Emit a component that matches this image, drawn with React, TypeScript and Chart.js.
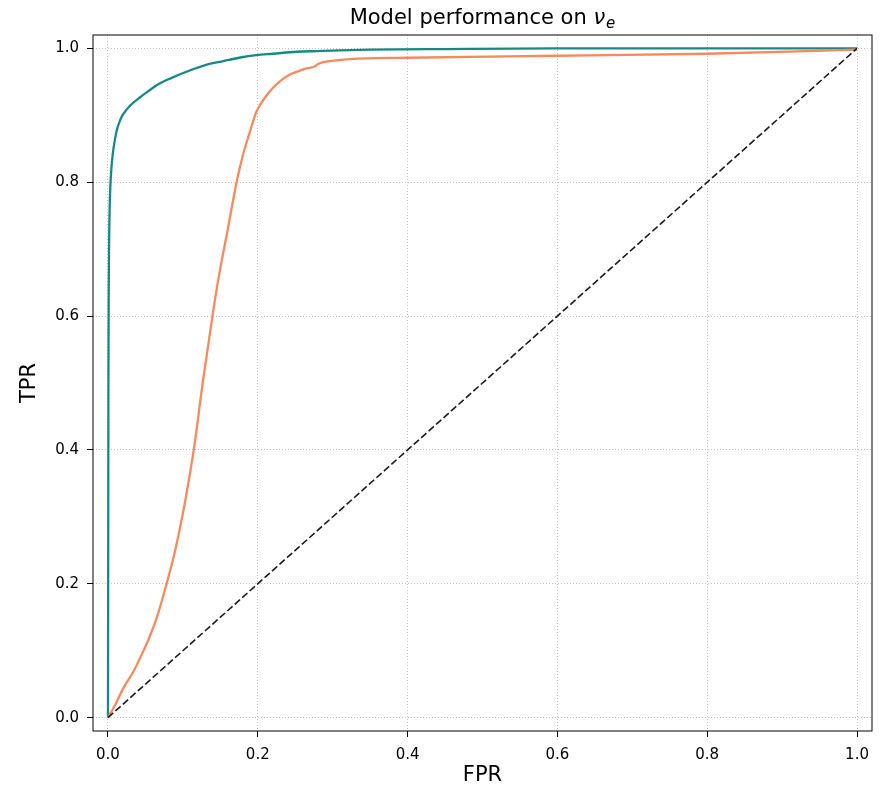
import React, { useEffect, useRef } from 'react';
import { Chart, registerables } from 'chart.js';

Chart.register(...registerables);

const TITLE_MAIN = 'Model performance on ';
const TITLE_SYMBOL = 'ν';
const TITLE_SUB = 'e';
const X_LABEL = 'FPR';
const Y_LABEL = 'TPR';
const TICK_VALUES = [0, 0.2, 0.4, 0.6, 0.8, 1.0];

const tealFpr = [0, 0.0003, 0.0006, 0.001, 0.0015, 0.0022, 0.003, 0.0045, 0.0065, 0.009, 0.0116, 0.016, 0.0205, 0.03, 0.043, 0.055, 0.065, 0.085, 0.109, 0.13, 0.154, 0.175, 0.198, 0.22, 0.252, 0.28, 0.31, 0.35, 0.45, 0.6, 1.0];
const tealTpr = [0, 0.25, 0.5, 0.64, 0.71, 0.76, 0.79, 0.82, 0.843, 0.862, 0.877, 0.892, 0.902, 0.915, 0.927, 0.937, 0.945, 0.956, 0.967, 0.975, 0.981, 0.986, 0.99, 0.992, 0.995, 0.996, 0.997, 0.998, 0.999, 1.0, 1.0];

const orangeFpr = [0, 0.01, 0.0205, 0.034, 0.047, 0.056, 0.065, 0.078, 0.0895, 0.103, 0.1145, 0.1268, 0.1395, 0.147, 0.16, 0.172, 0.18, 0.19, 0.198, 0.21, 0.221, 0.232, 0.243, 0.252, 0.265, 0.276, 0.281, 0.296, 0.323, 0.4, 0.6, 0.8, 1.0];
const orangeTpr = [0, 0.02, 0.044, 0.069, 0.099, 0.122, 0.149, 0.199, 0.249, 0.323, 0.4, 0.503, 0.6, 0.653, 0.73, 0.802, 0.84, 0.877, 0.905, 0.927, 0.942, 0.953, 0.961, 0.965, 0.97, 0.973, 0.977, 0.981, 0.984, 0.986, 0.989, 0.992, 0.998];

const chanceFpr = [0, 1];
const chanceTpr = [0, 1];

const toPoints = (xs: number[], ys: number[]) => xs.map((x, i) => ({ x, y: ys[i] }));

const framePlugin = {
  id: 'frameAndTitle',
  afterDraw(chart: any) {
    const { ctx, chartArea } = chart;
    ctx.save();
    ctx.strokeStyle = '#1a1a1a';
    ctx.lineWidth = 1.1;
    ctx.setLineDash([]);
    ctx.strokeRect(chartArea.left, chartArea.top, chartArea.right - chartArea.left, chartArea.bottom - chartArea.top);

    // title
    const size = 21;
    const normal = `${size}px "DejaVu Sans"`;
    const italic = `italic ${size}px "DejaVu Sans"`;
    const subFont = `italic ${Math.round(size * 0.7)}px "DejaVu Sans"`;
    ctx.fillStyle = '#000';
    ctx.textBaseline = 'alphabetic';
    ctx.font = normal;
    const w1 = ctx.measureText(TITLE_MAIN).width;
    ctx.font = italic;
    const w2 = ctx.measureText(TITLE_SYMBOL).width;
    ctx.font = subFont;
    const w3 = ctx.measureText(TITLE_SUB).width;
    const total = w1 + w2 + w3 + 1;
    const cx = (chartArea.left + chartArea.right) / 2;
    let x = cx - total / 2;
    const base = 24;
    ctx.textAlign = 'left';
    ctx.font = normal;
    ctx.fillText(TITLE_MAIN, x, base);
    x += w1;
    ctx.font = italic;
    ctx.fillText(TITLE_SYMBOL, x, base);
    x += w2 + 1;
    ctx.font = subFont;
    ctx.fillText(TITLE_SUB, x, base + 4);
    ctx.restore();
  },
};

export default function App() {
  const ref = useRef<HTMLCanvasElement | null>(null);

  useEffect(() => {
    if (!ref.current) return;
    const tickFont = { family: '"DejaVu Sans"', size: 15 };
    const titleFont = { family: '"DejaVu Sans"', size: 21 };
    const chart = new Chart(ref.current, {
      type: 'scatter',
      data: {
        datasets: [
          {
            label: 'chance',
            data: toPoints(chanceFpr, chanceTpr),
            showLine: true,
            borderColor: '#1a1a1a',
            borderWidth: 1.6,
            borderDash: [7, 3],
            pointRadius: 0,
            tension: 0,
          },
          {
            label: 'model B',
            data: toPoints(orangeFpr, orangeTpr),
            showLine: true,
            borderColor: '#f68a5c',
            borderWidth: 2.3,
            pointRadius: 0,
            cubicInterpolationMode: 'monotone',
          },
          {
            label: 'model A',
            data: toPoints(tealFpr, tealTpr),
            showLine: true,
            borderColor: '#178982',
            borderWidth: 2.3,
            pointRadius: 0,
            cubicInterpolationMode: 'monotone',
          },
        ],
      },
      options: {
        responsive: false,
        animation: false,
        layout: { padding: { top: 35, right: 15, left: 0, bottom: 0 } },
        plugins: {
          legend: { display: false },
          title: { display: false },
          tooltip: { enabled: false },
        },
        scales: {
          x: {
            type: 'linear',
            min: -0.02,
            max: 1.02,
            afterFit: (scale: any) => {
              scale.height = 57;
            },
            afterBuildTicks: (axis: any) => {
              axis.ticks = TICK_VALUES.map((v) => ({ value: v }));
            },
            ticks: {
              font: tickFont,
              color: '#000',
              padding: 9,
              maxRotation: 0,
              callback: (v: any) => Number(v).toFixed(1),
            },
            grid: {
              color: '#b0b0b0',
              lineWidth: 0.8,
              tickColor: '#000',
              tickLength: 6,
              tickWidth: 1,
            },
            border: { display: false, dash: [1, 2] },
            title: {
              display: true,
              text: X_LABEL,
              font: titleFont,
              color: '#000',
              padding: { top: 0, bottom: 0 },
            },
          },
          y: {
            type: 'linear',
            min: -0.02,
            max: 1.02,
            afterFit: (scale: any) => {
              scale.width = 93;
            },
            afterBuildTicks: (axis: any) => {
              axis.ticks = TICK_VALUES.map((v) => ({ value: v }));
            },
            ticks: {
              font: tickFont,
              color: '#000',
              padding: 8,
              callback: (v: any) => Number(v).toFixed(1),
            },
            grid: {
              color: '#b0b0b0',
              lineWidth: 0.8,
              tickColor: '#000',
              tickLength: 6,
              tickWidth: 1,
            },
            border: { display: false, dash: [1, 2] },
            title: {
              display: true,
              text: Y_LABEL,
              font: titleFont,
              color: '#000',
              padding: { top: 17, bottom: 0 },
            },
          },
        },
      },
      plugins: [framePlugin],
    });
    return () => chart.destroy();
  }, []);

  return (
    <div style={{ position: 'fixed', left: 0, top: 0, width: 887, height: 788, background: '#fff' }}>
      <canvas ref={ref} width={887} height={788} style={{ display: 'block' }} />
    </div>
  );
}
